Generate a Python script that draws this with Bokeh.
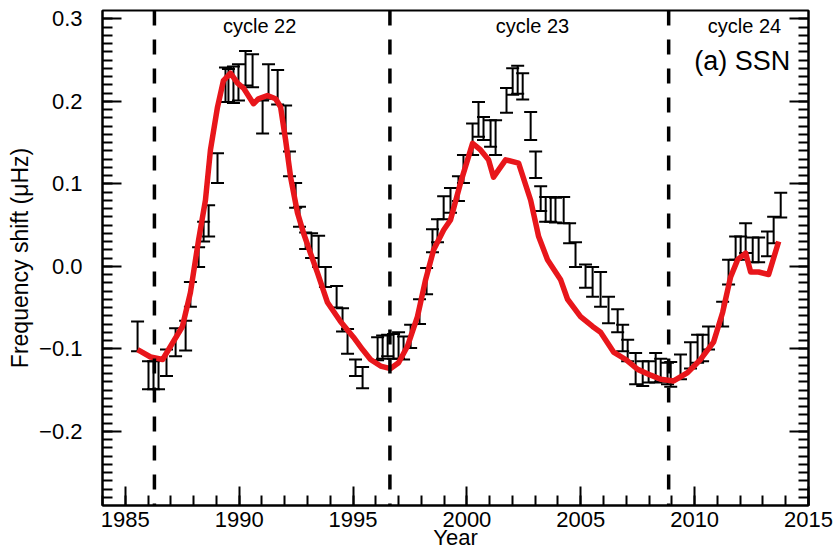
from bokeh.plotting import figure
from bokeh.models import (Range1d, LinearAxis, SingleIntervalTicker, Whisker, TeeHead,
                          Span, Label, ColumnDataSource, CustomJSTickFormatter)
from bokeh.embed import file_html
from bokeh.resources import INLINE

# ---- data ----
obs_year = [1985.54, 1986.02, 1986.24, 1986.46, 1986.81, 1987.21, 1987.65, 1987.86, 1988.22, 1988.44,
            1988.66, 1989.05, 1989.40, 1989.53, 1989.75, 1989.97, 1990.28, 1990.59, 1991.03, 1991.29,
            1991.69, 1992.04, 1992.21, 1992.48, 1992.65, 1992.92, 1993.18, 1993.49, 1993.79, 1994.28,
            1994.54, 1994.76, 1995.11, 1995.42, 1996.08, 1996.30, 1996.52, 1996.78, 1997.00, 1997.22,
            1997.53, 1997.92, 1998.23, 1998.49, 1998.71, 1998.98, 1999.28, 1999.63, 1999.85, 2000.25,
            2000.51, 2000.73, 2001.04, 2001.26, 2001.74, 2002.01, 2002.23, 2002.45, 2002.80, 2003.02,
            2003.24, 2003.46, 2003.68, 2003.89, 2004.25, 2004.51, 2004.77, 2005.21, 2005.52, 2005.87,
            2006.22, 2006.62, 2006.84, 2007.06, 2007.41, 2007.72, 2007.98, 2008.29, 2008.51, 2008.81,
            2008.95, 2009.38, 2009.82, 2010.13, 2010.35, 2010.61, 2011.23, 2011.49, 2011.80, 2012.02,
            2012.24, 2012.55, 2012.81, 2013.20, 2013.47, 2013.78]
obs_shift = [-0.085, -0.132, -0.132, -0.131, -0.117, -0.092, -0.084, -0.034, 0.011, 0.042,
             0.055, 0.119, 0.220, 0.219, 0.220, 0.223, 0.240, 0.237, 0.181, 0.224,
             0.217, 0.178, 0.124, 0.086, 0.060, 0.031, 0.025, 0.018, -0.013, -0.037,
             -0.065, -0.091, -0.123, -0.135, -0.100, -0.098, -0.096, -0.097, -0.096, -0.099,
             -0.085, -0.055, -0.018, 0.031, 0.043, 0.071, 0.080, 0.094, 0.118, 0.154,
             0.178, 0.167, 0.161, 0.156, 0.201, 0.224, 0.226, 0.218, 0.170, 0.123,
             0.082, 0.069, 0.069, 0.068, 0.068, 0.040, 0.014, -0.012, -0.019, -0.028,
             -0.053, -0.066, -0.087, -0.102, -0.124, -0.130, -0.128, -0.123, -0.126, -0.130,
             -0.131, -0.122, -0.108, -0.100, -0.099, -0.087, -0.058, -0.007, 0.022, 0.022,
             0.034, 0.020, 0.020, 0.027, 0.044, 0.074]
obs_err = [0.018, 0.017, 0.017, 0.018, 0.016, 0.017, 0.018, 0.015, 0.012, 0.012,
           0.019, 0.018, 0.021, 0.020, 0.022, 0.022, 0.021, 0.020, 0.020, 0.021,
           0.021, 0.017, 0.015, 0.015, 0.012, 0.010, 0.015, 0.019, 0.012, 0.013,
           0.014, 0.015, 0.010, 0.013, 0.014, 0.014, 0.013, 0.015, 0.016, 0.014,
           0.014, 0.015, 0.016, 0.014, 0.014, 0.014, 0.015, 0.015, 0.017, 0.019,
           0.021, 0.014, 0.016, 0.021, 0.015, 0.016, 0.017, 0.016, 0.017, 0.016,
           0.015, 0.015, 0.015, 0.015, 0.016, 0.012, 0.015, 0.014, 0.018, 0.021,
           0.016, 0.014, 0.016, 0.013, 0.019, 0.015, 0.013, 0.018, 0.014, 0.013,
           0.015, 0.015, 0.016, 0.017, 0.016, 0.014, 0.015, 0.015, 0.014, 0.014,
           0.018, 0.015, 0.015, 0.015, 0.016, 0.015]

ssn_year = [1985.54, 1986.11, 1986.64, 1986.99, 1987.51, 1987.86, 1988.22, 1988.52, 1988.74, 1989.05,
            1989.31, 1989.62, 1989.93, 1990.19, 1990.63, 1990.85, 1991.24, 1991.60, 1991.82, 1992.04,
            1992.26, 1992.56, 1992.83, 1993.13, 1993.44, 1993.88, 1994.45, 1995.02, 1995.42, 1995.77,
            1996.21, 1996.65, 1997.00, 1997.39, 1997.83, 1998.19, 1998.54, 1998.98, 1999.28, 1999.72,
            2000.25, 2000.60, 2000.95, 2001.17, 2001.70, 2002.27, 2002.80, 2003.15, 2003.54, 2004.11,
            2004.42, 2004.99, 2005.52, 2005.87, 2006.44, 2006.97, 2007.50, 2008.07, 2008.51, 2009.08,
            2009.69, 2010.26, 2010.83, 2011.23, 2011.58, 2011.89, 2012.24, 2012.46, 2012.81, 2013.25,
            2013.69]
ssn_shift = [-0.101, -0.110, -0.113, -0.097, -0.073, -0.032, 0.032, 0.080, 0.141, 0.193,
             0.225, 0.234, 0.222, 0.216, 0.197, 0.203, 0.207, 0.203, 0.193, 0.153,
             0.108, 0.065, 0.040, 0.016, -0.008, -0.044, -0.067, -0.086, -0.101, -0.113,
             -0.121, -0.124, -0.117, -0.097, -0.061, -0.016, 0.020, 0.044, 0.056, 0.101,
             0.149, 0.141, 0.129, 0.108, 0.129, 0.125, 0.080, 0.036, 0.008, -0.016,
             -0.040, -0.061, -0.073, -0.080, -0.104, -0.113, -0.125, -0.132, -0.137, -0.139,
             -0.129, -0.113, -0.092, -0.056, -0.013, 0.008, 0.016, -0.007, -0.007, -0.010,
             0.030]

cycle_minima = [1986.28, 1996.62, 2008.86]
cycle_names = ["cycle 22", "cycle 23", "cycle 24"]
cycle_label_x = [1990.9, 2002.88, 2013.8]
panel_label = "(a) SSN"

FONT = "Liberation Sans"

p = figure(width=837, height=558, x_range=Range1d(1984, 2015), y_range=Range1d(-0.29, 0.31),
           output_backend="svg", toolbar_location=None,
           min_border_left=102, min_border_right=29, min_border_top=10, min_border_bottom=53)
p.xgrid.visible = False
p.ygrid.visible = False
p.outline_line_color = "black"
p.outline_line_width = 2
p.background_fill_color = "white"
p.border_fill_color = "white"

# bottom axis
xa = p.xaxis[0]
xa.ticker = SingleIntervalTicker(interval=5, num_minor_ticks=5)
xa.major_tick_in = 19
xa.major_tick_out = 0
xa.minor_tick_in = 10
xa.minor_tick_out = 0
xa.major_tick_line_width = 2
xa.minor_tick_line_width = 2
xa.axis_line_width = 2
xa.major_label_text_font = FONT
xa.major_label_text_font_size = "22px"
xa.major_label_text_color = "black"
xa.major_label_standoff = 6
xa.axis_label = "Year"
xa.axis_label_text_font = FONT
xa.axis_label_text_font_size = "22px"
xa.axis_label_text_font_style = "normal"
xa.axis_label_text_color = "black"
xa.axis_label_standoff = -5

# left axis
ya = p.yaxis[0]
ya.ticker = SingleIntervalTicker(interval=0.1, num_minor_ticks=10)
ya.formatter = CustomJSTickFormatter(code="""
    if (Math.abs(tick) < 1e-9) return "0.0";
    return (tick < 0 ? "\\u2212" : "") + Math.abs(tick).toFixed(1);
""")
ya.major_tick_in = 19
ya.major_tick_out = 0
ya.minor_tick_in = 10
ya.minor_tick_out = 0
ya.major_tick_line_width = 2
ya.minor_tick_line_width = 2
ya.axis_line_width = 2
ya.major_label_text_font = FONT
ya.major_label_text_font_size = "22px"
ya.major_label_text_color = "black"
ya.major_label_standoff = 20
ya.axis_label = "Frequency shift (\u03bcHz)"
ya.axis_label_text_font = FONT
ya.axis_label_text_font_size = "23px"
ya.axis_label_text_font_style = "normal"
ya.axis_label_text_color = "black"
ya.axis_label_standoff = 3

# right axis: ticks only
ra = LinearAxis(ticker=SingleIntervalTicker(interval=0.1, num_minor_ticks=10),
                formatter=CustomJSTickFormatter(code="return '';"),
                major_tick_in=19, major_tick_out=0, minor_tick_in=10, minor_tick_out=0,
                major_tick_line_width=2, minor_tick_line_width=2, axis_line_width=2,
                major_label_standoff=0)
p.add_layout(ra, "right")

# cycle minima
for m in cycle_minima:
    p.add_layout(Span(location=m, dimension="height", line_color="black",
                      line_width=3.5, line_dash="15 14"))

# error bars
src = ColumnDataSource(dict(x=obs_year, y=obs_shift,
                            lo=[v - e for v, e in zip(obs_shift, obs_err)],
                            hi=[v + e for v, e in zip(obs_shift, obs_err)]))
wh = Whisker(source=src, base="x", upper="hi", lower="lo", line_color="black", line_width=2,
             upper_head=TeeHead(size=13, line_width=2, line_color="black"),
             lower_head=TeeHead(size=13, line_width=2, line_color="black"))
p.add_layout(wh)

# SSN curve
p.line(ssn_year, ssn_shift, line_color="#e8161b", line_width=5.5, line_join="round")

# labels
for name, xc in zip(cycle_names[:2], cycle_label_x[:2]):
    p.add_layout(Label(x=xc, y=0.291, text=name, text_font=FONT, text_font_size="20px",
                       text_align="center", text_baseline="middle", text_color="black"))
p.add_layout(Label(x=cycle_label_x[2], y=0.291, text=cycle_names[2], text_font=FONT,
                   text_font_size="20px", text_align="right", text_baseline="middle",
                   text_color="black"))
p.add_layout(Label(x=2014.2, y=0.249, text=panel_label, text_font=FONT, text_font_size="27px",
                   text_align="right", text_baseline="middle", text_color="black"))

with open("out.html", "w", encoding="utf-8") as f:
    f.write(file_html(p, INLINE))
